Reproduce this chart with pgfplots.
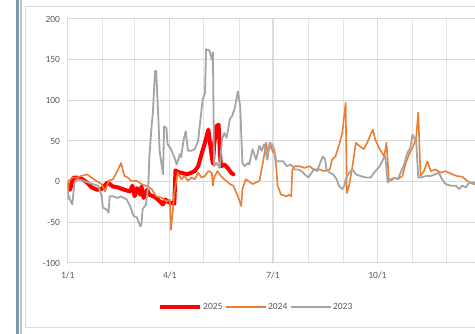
\documentclass[border=0pt]{standalone}
\usepackage{fontspec}
\setmainfont{Carlito}
\usepackage{pgfplots}
\pgfplotsset{compat=1.18}
\definecolor{sred}{HTML}{FF0000}
\definecolor{sorange}{HTML}{ED7D31}
\definecolor{sgrey}{HTML}{A5A5A5}
\definecolor{labelgrey}{HTML}{595959}
\definecolor{gridh}{HTML}{D9D9D9}
\definecolor{gridmaj}{HTML}{DCDCDC}
\definecolor{gridmin}{HTML}{E4E4E4}
\definecolor{framebar}{HTML}{8394AE}
\definecolor{framebar2}{HTML}{BCC4D0}
\definecolor{chartborder}{HTML}{D9D9D9}
\begin{document}
\begin{tikzpicture}
\useasboundingbox (0pt,0pt) rectangle (475pt,334pt);
\fill[white] (0pt,0pt) rectangle (475pt,334pt);
\fill[framebar] (16pt,0pt) rectangle (19pt,334pt);
\fill[framebar2] (20.3pt,0pt) rectangle (21.8pt,334pt);
\draw[chartborder, line width=1pt] (25pt,6pt) -- (25pt,327pt) -- (480pt,327pt);
\draw[chartborder, line width=1pt] (25pt,6pt) -- (480pt,6pt);
\begin{axis}[
  at={(67.7pt,71pt)}, anchor=south west,
  scale only axis, width=407.3pt, height=244pt,
  xmin=0, xmax=359, ymin=-100, ymax=200,
  axis line style={draw=none},
  major tick length=0pt, minor tick length=0pt,
  xtick={0,90,181,273}, xticklabels={1/1,4/1,7/1,10/1},
  minor xtick={31,59,120,151,212,243,304,334},
  ytick={-100,-50,0,50,100,150,200},
  yticklabels={-100,-50,0,50,100,150,200},
  grid=both,
  grid style={gridh, line width=1pt},
  major grid style={gridh, line width=1pt},
  minor grid style={gridmin, line width=1pt},
  major x grid style={gridmaj, line width=1.3pt},
  xticklabel style={font=\fontsize{9.5}{11}\selectfont, text=labelgrey, anchor=north, inner sep=0pt, yshift=-9pt},
  yticklabel style={font=\fontsize{9.5}{11}\selectfont, text=labelgrey, anchor=east, inner sep=0pt, xshift=-7.5pt},
  /pgf/number format/assume math mode=true,
  legend style={draw=none, fill=none, at={(0.2217,-0.180)}, anchor=west,
    legend columns=3, inner sep=0pt, font=\fontsize{9.5}{11}\selectfont, text=labelgrey,
    /tikz/every even column/.append style={column sep=2pt},
    nodes={inner sep=1pt}},
  legend image code/.code={\draw[#1] (0pt,0pt) -- (40pt,0pt);},
  line join=round, line cap=round,
]
% 2025
\addplot[sred, line width=4pt, no markers] coordinates {
(0,-3) (2,-10) (5,5) (8,5) (13,3) (17,-1) (21,-7) (26,-10) (30,-9) (35,-1)
(40,-6) (44,-7) (50,-10) (55,-12) (57,-5) (59,-18) (61,-8) (64,-16) (65,-6)
(67,-20) (70,-10) (72,-16) (77,-19) (81,-24) (84,-28) (86,-22) (90,-26) (94,-27)
(95,14) (97,12) (100,11) (105,9) (109,11) (112,13) (115,19) (118,34) (121,48)
(124,64) (125,52) (127,31) (128,22) (129,44) (131,68) (133,70) (134,40) (135,19)
(138,21) (141,17) (144,11) (146,9)
};
\addlegendentry{2025}
% 2024
\addplot[sorange, line width=1.6pt, no markers] coordinates {
(0,-22) (1,1) (4,5) (8,5) (12,7) (17,9) (21,5) (25,1) (30,-3) (33,-12) (36,1)
(40,3) (43,11) (47,23) (50,7) (53,5) (56,1) (61,1) (65,-3) (69,-5) (74,-9)
(78,-18) (83,-20) (87,-24) (90,-22) (91,-59) (93,-30) (94,-13) (97,11) (100,3)
(103,7) (106,1) (109,5) (112,3) (115,11) (118,5) (121,7) (124,13) (127,11)
(128,-5) (129,5) (132,13) (135,7) (138,3) (143,-3) (146,-5) (150,-18) (153,-30)
(154,-9) (157,3) (163,-3) (169,1) (172,23) (175,48) (176,36) (179,44) (181,36)
(182,40) (184,15) (185,-5) (188,-16) (193,-18) (195,-16) (197,-18) (198,15)
(200,19) (204,19) (209,17) (213,19) (217,15) (222,15) (226,13) (231,15) (233,27)
(236,31) (239,44) (242,60) (245,97) (246,-14) (248,-5) (251,19) (254,48) (257,44)
(261,40) (264,48) (267,58) (269,64) (271,52) (275,40) (279,31) (281,48) (283,3)
(285,1) (288,5) (291,3) (295,7) (298,23) (301,34) (304,42) (307,52) (309,85)
(310,44) (311,7) (314,13) (317,25) (320,13) (324,15) (329,11) (333,13) (339,9)
(343,7) (348,6) (352,1) (354,-1) (358,-3) (362,-4)
};
\addlegendentry{2024}
% 2023
\addplot[sgrey, line width=1.8pt, no markers] coordinates {
(0,-14) (2,-22) (4,-28) (6,-1) (9,3) (14,1) (18,-1) (22,-3) (27,-5) (30,-18)
(31,-32) (34,-34) (36,-38) (37,-18) (40,-18) (44,-20) (47,-18) (52,-22) (55,-30)
(58,-42) (61,-44) (64,-55) (65,-52) (66,-34) (69,-28) (71,-5) (72,30) (74,70)
(75,83) (77,136) (78,136) (80,75) (81,38) (84,9) (85,68) (87,66) (88,46) (91,40)
(94,30) (96,21) (99,34) (100,30) (102,50) (104,62) (106,38) (109,38) (112,40)
(115,50) (116,64) (118,89) (119,101) (121,109) (122,163) (125,161) (127,150)
(128,159) (129,19) (131,23) (134,17) (136,52) (138,60) (140,54) (143,77) (145,81)
(147,89) (150,111) (152,93) (154,23) (156,19) (159,23) (160,21) (163,40) (166,27)
(169,44) (171,38) (173,46) (176,27) (178,48) (181,44) (184,25) (187,25) (190,25)
(193,19) (197,21) (200,15) (203,15) (206,13) (209,9) (212,5) (215,11) (217,15)
(220,13) (223,25) (225,31) (227,27) (228,15) (231,11) (234,9) (237,3) (239,-5)
(242,-9) (244,-5) (245,3) (248,11) (251,15) (254,9) (258,7) (263,5) (267,5)
(270,11) (275,19) (279,30) (280,31) (282,-1) (285,3) (288,5) (291,3) (294,13)
(297,23) (299,34) (302,42) (304,58) (306,52) (307,54) (309,5) (311,5) (316,7)
(320,7) (324,9) (327,11) (330,3) (333,-3) (338,-5) (342,-5) (345,-9) (348,-5)
(351,-7) (354,-1) (358,-1) (362,-3)
};
\addlegendentry{2023}
\end{axis}
\end{tikzpicture}
\end{document}
